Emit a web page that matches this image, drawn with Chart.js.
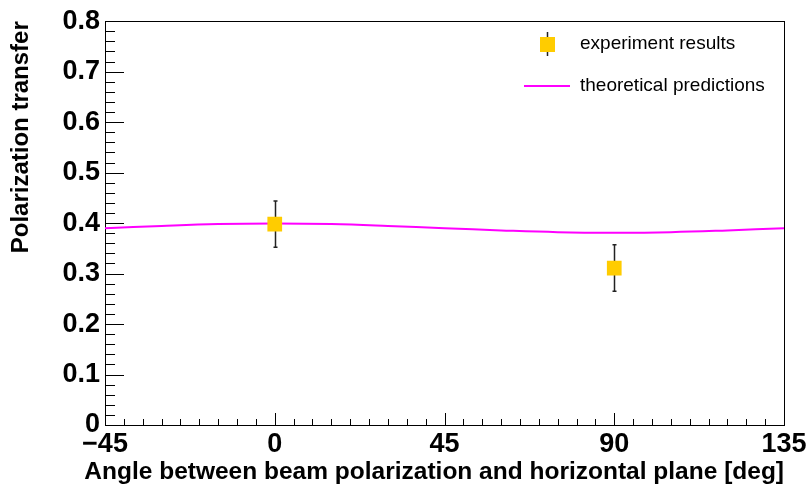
<!DOCTYPE html>
<html>
<head>
<meta charset="utf-8">
<script src="https://cdn.jsdelivr.net/npm/chart.js@4.4.1/dist/chart.umd.min.js"></script>
<style>
  html, body { margin: 0; padding: 0; background: #fff; }
  #wrap { width: 810px; height: 488px; }
</style>
</head>
<body>
<div id="wrap"><canvas id="chart" width="810" height="488"></canvas></div>
<script>
// measured points
const expAngles = [0, 90];
const expValues = [0.398, 0.311];
const expErrors = [0.046, 0.046];

// theory curve, read every 15 deg
const theoryAngles = [-45, -30, -15, 0, 15, 30, 45, 60, 75, 90, 105, 120, 135];
const theoryValues = [0.390, 0.3945, 0.398, 0.399, 0.398, 0.3945, 0.390, 0.3855, 0.382, 0.381, 0.382, 0.3855, 0.390];

const xTitle = "Angle between beam polarization and horizontal plane [deg]";
const yTitle = "Polarization transfer";
const legendLabels = ["experiment results", "theoretical predictions"];

const FONT = "'Liberation Sans', Arial, Helvetica, sans-serif";
const MARKER = "#ffcc00";
const CURVE = "#ff00ff";

// frame, inner ticks, error bars
const framePlugin = {
    id: "frame",
    beforeDatasetsDraw(chart) {
        const ctx = chart.ctx;
        const a = chart.chartArea;
        const xs = chart.scales.x, ys = chart.scales.y;
        ctx.save();
        ctx.strokeStyle = "#000";
        ctx.lineWidth = 1;
        ctx.strokeRect(Math.round(a.left) + 0.5, Math.round(a.top) + 0.5,
                       Math.round(a.right - a.left), Math.round(a.bottom - a.top));

        // x ticks every 5 deg, major every 45
        for (let i = 0; i <= 36; i++) {
            const v = -45 + i * 5;
            const px = Math.round(xs.getPixelForValue(v)) + 0.5;
            const len = (v % 45 === 0) ? 12 : 6;
            ctx.beginPath();
            ctx.moveTo(px, a.bottom);
            ctx.lineTo(px, a.bottom - len);
            ctx.stroke();
        }
        // y ticks every 0.02, major every 0.1
        for (let i = 0; i <= 40; i++) {
            const v = i * 0.02;
            const py = Math.round(ys.getPixelForValue(v)) + 0.5;
            const len = (i % 5 === 0) ? 19 : 10;
            ctx.beginPath();
            ctx.moveTo(a.left, py);
            ctx.lineTo(a.left + len, py);
            ctx.stroke();
        }

        // error bars
        ctx.strokeStyle = "#222";
        ctx.lineWidth = 1.5;
        expAngles.forEach((ang, i) => {
            const px = Math.round(xs.getPixelForValue(ang)) + 0.5;
            const top = ys.getPixelForValue(expValues[i] + expErrors[i]);
            const bot = ys.getPixelForValue(expValues[i] - expErrors[i]);
            ctx.beginPath();
            ctx.moveTo(px, top);
            ctx.lineTo(px, bot);
            ctx.moveTo(px - 2, top);
            ctx.lineTo(px + 2, top);
            ctx.moveTo(px - 2, bot);
            ctx.lineTo(px + 2, bot);
            ctx.stroke();
        });
        ctx.restore();
    },
    afterDraw(chart) {
        const ctx = chart.ctx;
        const a = chart.chartArea;
        ctx.save();
        ctx.fillStyle = "#000";

        // axis titles
        ctx.font = "bold 24.5px " + FONT;
        ctx.textAlign = "right";
        ctx.textBaseline = "middle";
        ctx.fillText(xTitle, a.right, 472);

        ctx.font = "bold 24px " + FONT;
        ctx.translate(21, a.top);
        ctx.rotate(-Math.PI / 2);
        ctx.fillText(yTitle, 0, 0);
        ctx.setTransform(1, 0, 0, 1, 0, 0);

        // legend
        ctx.strokeStyle = "#222";
        ctx.lineWidth = 1.5;
        ctx.beginPath();
        ctx.moveTo(547.5, 32);
        ctx.lineTo(547.5, 56);
        ctx.stroke();
        ctx.fillStyle = MARKER;
        ctx.fillRect(540, 37, 15, 15);

        ctx.strokeStyle = CURVE;
        ctx.lineWidth = 2;
        ctx.beginPath();
        ctx.moveTo(524, 86);
        ctx.lineTo(570, 86);
        ctx.stroke();

        ctx.fillStyle = "#000";
        ctx.font = "19px " + FONT;
        ctx.textAlign = "left";
        ctx.fillText(legendLabels[0], 580, 44);
        ctx.fillText(legendLabels[1], 580, 86);
        ctx.restore();
    }
};

const tickFont = { family: FONT, size: 27, weight: "bold" };

new Chart(document.getElementById("chart"), {
    type: "scatter",
    data: {
        datasets: [
            {
                type: "line",
                label: legendLabels[1],
                data: theoryAngles.map((a, i) => ({ x: a, y: theoryValues[i] })),
                borderColor: CURVE,
                borderWidth: 2,
                pointRadius: 0,
                tension: 0.4,
                fill: false,
                order: 2
            },
            {
                label: legendLabels[0],
                data: expAngles.map((a, i) => ({ x: a, y: expValues[i] })),
                pointStyle: "rect",
                pointRadius: 10.4,
                backgroundColor: MARKER,
                borderWidth: 0,
                order: 1
            }
        ]
    },
    options: {
        responsive: false,
        animation: false,
        layout: { padding: { top: 18, right: 26, left: 0, bottom: 0 } },
        plugins: {
            legend: { display: false },
            tooltip: { enabled: false }
        },
        scales: {
            x: {
                type: "linear",
                min: -45,
                max: 135,
                grid: { display: false, drawTicks: false },
                border: { display: false },
                ticks: {
                    stepSize: 45,
                    padding: 3,
                    color: "#000",
                    font: tickFont,
                    maxRotation: 0,
                    autoSkip: false,
                    callback: v => String(v).replace("-", "\u2212")
                },
                afterFit: s => { s.height = 63; }
            },
            y: {
                min: 0,
                max: 0.8,
                grid: { display: false, drawTicks: false },
                border: { display: false },
                ticks: {
                    stepSize: 0.1,
                    padding: 5,
                    color: "#000",
                    font: tickFont,
                    callback: v => (v === 0 ? "0" : v.toFixed(1))
                },
                afterFit: s => { s.width = 105; }
            }
        }
    },
    plugins: [framePlugin]
});
</script>
</body>
</html>
